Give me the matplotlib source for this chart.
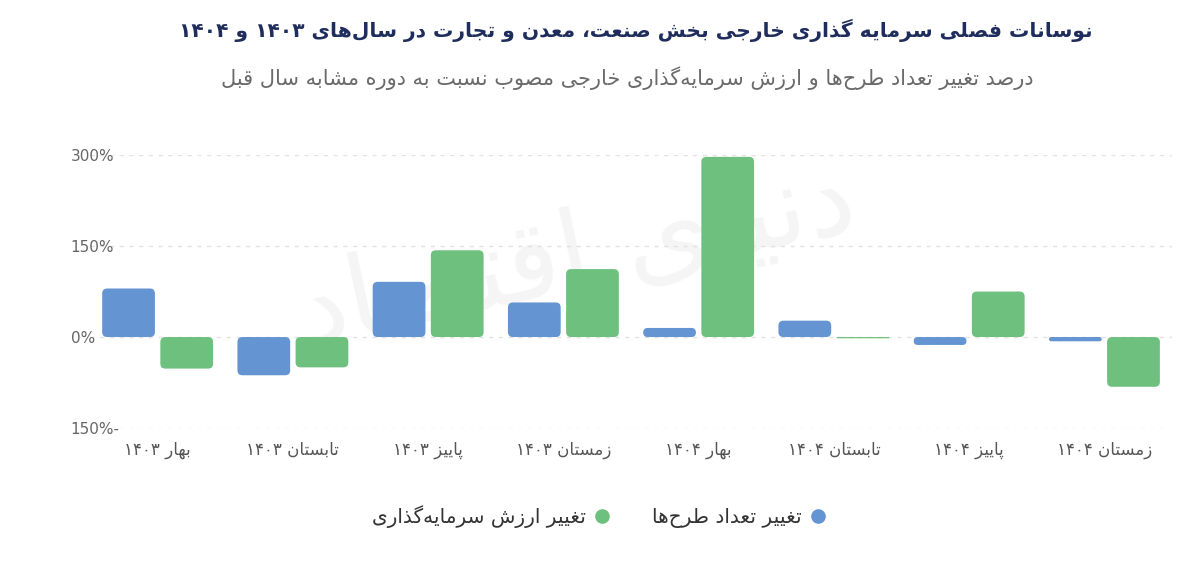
import re
import matplotlib
matplotlib.use("Agg")
import matplotlib.pyplot as plt
from matplotlib.patches import FancyBboxPatch
from matplotlib.lines import Line2D

# --- data -------------------------------------------------------------
categories = ["بهار ۱۴۰۳", "تابستان ۱۴۰۳", "پاییز ۱۴۰۳", "زمستان ۱۴۰۳",
              "بهار ۱۴۰۴", "تابستان ۱۴۰۴", "پاییز ۱۴۰۴", "زمستان ۱۴۰۴"]
projects_change = [80, -63, 91, 57, 15, 27, -13, -7]      # blue
value_change = [-52, -50, 143, 112, 297, -2, 75, -82]     # green
yticks = [-150, 0, 150, 300]
ytick_labels = ["150%-", "0%", "150%", "300%"]

title = "نوسانات فصلی سرمایه گذاری خارجی بخش صنعت، معدن و تجارت در سال\u200cهای ۱۴۰۳ و ۱۴۰۴"
subtitle = "درصد تغییر تعداد طرح\u200cها و ارزش سرمایه\u200cگذاری خارجی مصوب نسبت به دوره مشابه سال قبل"
label_projects = "تغییر تعداد طرح\u200cها"
label_value = "تغییر ارزش سرمایه\u200cگذاری"
watermark = "دنیای اقتصاد"

BLUE = "#6494d2"
GREEN = "#6dc07d"

# --- minimal arabic/persian shaping (matplotlib has no text shaping) ---
DUAL = {'ب': 0xFE8F, 'ت': 0xFE95, 'ث': 0xFE99, 'ج': 0xFE9D, 'ح': 0xFEA1,
        'خ': 0xFEA5, 'س': 0xFEB1, 'ش': 0xFEB5, 'ص': 0xFEB9, 'ض': 0xFEBD,
        'ط': 0xFEC1, 'ظ': 0xFEC5, 'ع': 0xFEC9, 'غ': 0xFECD, 'ف': 0xFED1,
        'ق': 0xFED5, 'ل': 0xFEDD, 'م': 0xFEE1, 'ن': 0xFEE5, 'ه': 0xFEE9,
        'پ': 0xFB56, 'چ': 0xFB7A, 'ک': 0xFB8E, 'گ': 0xFB92, 'ي': 0xFEF1}
RIGHT = {'ا': 0xFE8D, 'آ': 0xFE81, 'د': 0xFEA9, 'ذ': 0xFEAB, 'ر': 0xFEAD,
         'ز': 0xFEAF, 'ژ': 0xFB8A, 'و': 0xFEED}
# persian yeh: dotless when isolated/final, dotted otherwise
YEH = [0xFEEF, 0xFEF0, 0xFEF3, 0xFEF4]


def fa(s):
    out = []
    for i, c in enumerate(s):
        if c not in DUAL and c not in RIGHT and c != 'ی':
            out.append(c)
            continue
        prev = s[i - 1] if i > 0 else ''
        nxt = s[i + 1] if i + 1 < len(s) else ''
        p = prev in DUAL or prev == 'ی'
        q = (c in DUAL or c == 'ی') and (nxt in DUAL or nxt in RIGHT or nxt == 'ی')
        off = 3 if (p and q) else 1 if p else 2 if q else 0
        if c == 'ی':
            out.append(chr(YEH[off]))
        else:
            out.append(chr((DUAL.get(c) or RIGHT.get(c)) + off))
    txt = ''.join(out).replace('\u200c', '')[::-1]
    return re.sub(r'[0-9\u06F0-\u06F9]+', lambda m: m.group()[::-1], txt)


plt.rcParams['font.family'] = ['DejaVu Sans']

fig = plt.figure(figsize=(12, 5.8), dpi=100)
ax = fig.add_axes([0.075, 0.262, 0.9017, 0.4707])

x = list(range(len(categories)))
w = 0.39
off = 0.215
bars_b = ax.bar([i - off for i in x], projects_change, w, color="none")
bars_g = ax.bar([i + off for i in x], value_change, w, color="none")

# rounded bars, built from the rectangles ax.bar produced
ax.set_xlim(-0.5, len(categories) - 0.5)
ax.set_ylim(-150, 300)
px_x = 1082 / len(categories)      # pixels per x unit
px_y = 273 / 450                   # pixels per y unit
aspect = px_x / px_y
for bars, col in ((bars_b, BLUE), (bars_g, GREEN)):
    for r in bars:
        h = r.get_height()
        y0 = r.get_y()
        hp = abs(h) * px_y
        rad = min(5.0, hp / 2) / px_x
        p = FancyBboxPatch((r.get_x(), min(y0, y0 + h)), r.get_width(), abs(h),
                           boxstyle=f"round,pad=0,rounding_size={rad}",
                           mutation_aspect=aspect, fc=col, ec="none", zorder=3)
        ax.add_patch(p)

ax.set_yticks(yticks)
ax.set_yticklabels(ytick_labels)
ax.set_xticks(x)
ax.set_xticklabels([fa(c) for c in categories])
ax.tick_params(axis='y', length=0, pad=14, labelsize=11, labelcolor="#666666")
ax.tick_params(axis='x', length=0, pad=9, labelsize=12, labelcolor="#555555")
for t in ax.get_yticklabels():
    t.set_horizontalalignment('left')
ax.grid(axis='y', color="#e2e2e2", linestyle=(0, (3, 4)), linewidth=1)
ax.set_axisbelow(True)
for s in ax.spines.values():
    s.set_visible(False)

ax.text(0.45, 0.62, fa(watermark), transform=ax.transAxes, fontsize=80,
        color="#f5f5f5", ha="center", va="center", rotation=12, zorder=0)

fig.text(0.53, 0.948, fa(title), ha="center", va="center", fontsize=14.6,
         fontweight="bold", color="#1f2d5c")
fig.text(0.523, 0.866, fa(subtitle), ha="center", va="center", fontsize=15,
         color="#6a6a6a")

handles = [Line2D([], [], marker='o', ls='', color=GREEN, markersize=9.5),
           Line2D([], [], marker='o', ls='', color=BLUE, markersize=9.5)]
fig.legend(handles, [fa(label_value), fa(label_projects)], loc="center",
           bbox_to_anchor=(0.5, 0.11), ncol=2, frameon=False, markerfirst=False,
           fontsize=14.5, columnspacing=2.0, handlelength=1.0, handletextpad=0.3,
           labelcolor="#333333")

fig.savefig("out.png", dpi=100, facecolor="white")
